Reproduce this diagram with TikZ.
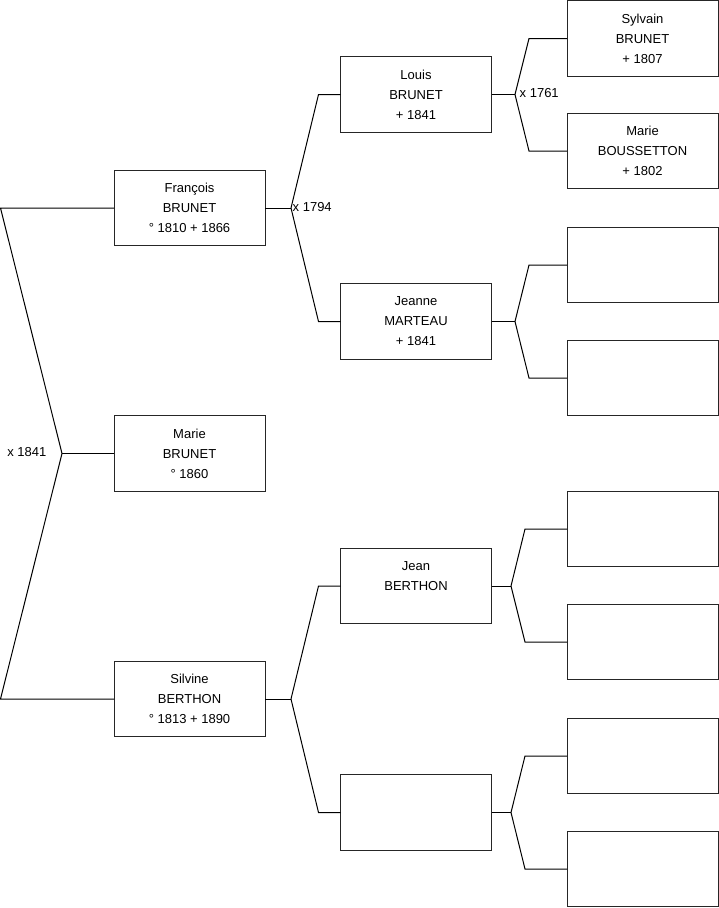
\documentclass[tikz,border=0pt]{standalone}
\usepackage{fontspec}
\setmainfont{Liberation Sans}
\usetikzlibrary{calc}
\begin{document}
\begin{tikzpicture}[x=1pt,y=-1pt,
  box/.style={draw=black!85, line width=1pt, minimum width=151pt, minimum height=75.5pt,
    inner sep=0pt, outer sep=0pt, align=center, font=\fontsize{13}{20}\selectfont},
  conn/.style={draw=black, line width=1pt},
  lab/.style={font=\fontsize{13}{16}\selectfont, inner sep=1.5pt}]
\useasboundingbox (0,0) rectangle (719,908);
% generation 1
\node[box] (f) at (189.5,208) {François\\BRUNET\\° 1810 + 1866};
\node[box] (m) at (189.5,453.5) {Marie\\BRUNET\\° 1860};
\node[box] (s) at (189.5,699) {Silvine\\BERTHON\\° 1813 + 1890};
% generation 2
\node[box] (l) at (416,94.5) {Louis\\BRUNET\\+ 1841};
\node[box] (j) at (416,321.5) {Jeanne\\MARTEAU\\+ 1841};
\node[box] (jb) at (416,586) {Jean\\BERTHON\\\mbox{}};
\node[box] (e2) at (416,812.5) {};
% generation 3
\node[box] (sy) at (642.5,38.5) {Sylvain\\BRUNET\\+ 1807};
\node[box] (mb) at (642.5,151) {Marie\\BOUSSETTON\\+ 1802};
\node[box] (e3a) at (642.5,265) {};
\node[box] (e3b) at (642.5,378) {};
\node[box] (e3c) at (642.5,529) {};
\node[box] (e3d) at (642.5,642) {};
\node[box] (e3e) at (642.5,756) {};
\node[box] (e3f) at (642.5,869) {};
% left fork
\coordinate (ma) at (62,453.5);
\draw[conn] (m.west) -- (ma);
\draw[conn] (ma) -- ($(f.west)+(-113.5,0)$) -- (f.west);
\draw[conn] (ma) -- ($(s.west)+(-113.5,0)$) -- (s.west);
% generation 1 -> 2
\coordinate (fa) at (291,208);
\draw[conn] (f.east) -- (fa);
\draw[conn] (fa) -- ($(l.west)+(-22,0)$) -- (l.west);
\draw[conn] (fa) -- ($(j.west)+(-22,0)$) -- (j.west);
\coordinate (sa) at (291,699);
\draw[conn] (s.east) -- (sa);
\draw[conn] (sa) -- ($(jb.west)+(-22,0)$) -- (jb.west);
\draw[conn] (sa) -- ($(e2.west)+(-22,0)$) -- (e2.west);
% generation 2 -> 3
\coordinate (la) at (515,94.5);
\draw[conn] (l.east) -- (la);
\draw[conn] (la) -- ($(sy.west)+(-38,0)$) -- (sy.west);
\draw[conn] (la) -- ($(mb.west)+(-38,0)$) -- (mb.west);
\coordinate (ja) at (515,321.5);
\draw[conn] (j.east) -- (ja);
\draw[conn] (ja) -- ($(e3a.west)+(-38,0)$) -- (e3a.west);
\draw[conn] (ja) -- ($(e3b.west)+(-38,0)$) -- (e3b.west);
\coordinate (jba) at (511,586);
\draw[conn] (jb.east) -- (jba);
\draw[conn] (jba) -- ($(e3c.west)+(-42,0)$) -- (e3c.west);
\draw[conn] (jba) -- ($(e3d.west)+(-42,0)$) -- (e3d.west);
\coordinate (e2a) at (511,812.5);
\draw[conn] (e2.east) -- (e2a);
\draw[conn] (e2a) -- ($(e3e.west)+(-42,0)$) -- (e3e.west);
\draw[conn] (e2a) -- ($(e3f.west)+(-42,0)$) -- (e3f.west);
% marriage labels
\node[lab, anchor=east] (m1841) at ($(ma)+(-14,-1)$) {x 1841};
\node[lab, anchor=west] (m1794) at ($(fa)+(0,-1)$) {x 1794};
\node[lab, anchor=west] (m1761) at ($(la)+(3,-1)$) {x 1761};
\end{tikzpicture}
\end{document}
